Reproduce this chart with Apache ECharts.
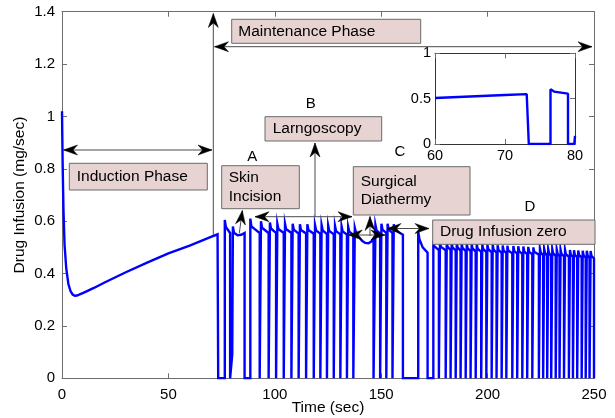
<!DOCTYPE html>
<html><head><meta charset="utf-8">
<script src="https://cdn.jsdelivr.net/npm/echarts@6/dist/echarts.min.js"></script>
<style>html,body{margin:0;padding:0;background:#fff}#c{width:615px;height:418px}</style>
</head><body><div id="c"></div>
<script>
// ---- data ----
const xRange = [0, 250];
const yRange = [0, 1.4];
const insetXRange = [60, 80];
const insetYRange = [0, 1];

// induction phase (continuous curve) [t, mg/sec]
const induction = [[0,1.02],[0.3,0.82],[0.7,0.64],[1.2,0.51],[2,0.42],[3,0.36],[4,0.333],[5,0.32],[6,0.315],[7,0.316],
  [10,0.326],[15,0.345],[20,0.366],[30,0.405],[40,0.442],[50,0.477],[60,0.507],[70,0.54],[73.1,0.55],[73.4,0]];

// maintenance phase pulses: upper outline of each pulse [t, value]; each pulse rises from 0 and returns to 0
const pulsesA = [
  [[76.5,0.605],[77.0,0.578],[79.0,0.555]],
  [[79.9,0],[80.0,0.09],[80.3,0.58],[80.8,0.556],[82.5,0.546],[84.2,0.548],[85.8,0.555]],
  [[88.5,0.61],[89.0,0.58],[92.9,0.555]],
  [[93.5,0.60],[94.0,0.575],[97.1,0.555]],
  [[97.7,0.595],[98.2,0.572],[100.6,0.555]],
  [[101.2,0.59],[101.7,0.57],[104.2,0.555]],
  [[104.8,0.59],[105.3,0.57],[107.8,0.555]],
  [[108.4,0.59],[108.9,0.568],[111.2,0.553]],
  [[111.8,0.588],[112.3,0.566],[114.7,0.553]],
  [[115.3,0.588],[115.8,0.566],[118.3,0.552]],
  [[118.9,0.585],[119.4,0.565],[121.4,0.552]],
  [[122.0,0.585],[122.5,0.565],[124.5,0.551]],
  [[125.1,0.583],[125.6,0.563],[127.7,0.55]],
  [[128.3,0.582],[128.8,0.562],[130.8,0.55]],
  [[131.4,0.58],[131.9,0.561],[133.9,0.549]],
  [[134.5,0.578],[135.0,0.56],[136.9,0.548]],
  [[137.6,0.575],[138.2,0.555],[139.5,0.54],[141,0.525],[142.5,0.517],[144,0.516],[145.3,0.522],[146.4,0.535]]
];
const pulsesB = [
  [[147.3,0.585],[147.8,0.565],[149.5,0.553]],
  [[150.1,0.59],[150.6,0.568],[152.4,0.555]],
  [[153.0,0.59],[153.5,0.568],[155.3,0.555]],
  [[155.9,0.588],[156.4,0.566],[160.2,0.548]]
];
const pulsesC = [
  [[167.4,0.56],[168.0,0.53],[169.5,0.5],[171.8,0.48]]
];
const pulsesD = [
  [[174.5,0.525],[174.9,0.505],[177.1,0.49]],
  [[177.6,0.522],[178.0,0.503],[180.3,0.489]],
  [[180.8,0.52],[181.2,0.502],[182.6,0.49]],
  [[183.1,0.518],[183.5,0.5],[185.0,0.488]],
  [[185.5,0.518],[185.9,0.5],[187.3,0.487]],
  [[187.8,0.516],[188.2,0.498],[189.7,0.486]],
  [[190.2,0.515],[190.6,0.497],[192.0,0.485]],
  [[192.5,0.514],[192.9,0.496],[194.4,0.484]],
  [[194.9,0.513],[195.3,0.495],[197.0,0.483]],
  [[197.5,0.512],[197.9,0.494],[199.4,0.482]],
  [[199.9,0.51],[200.3,0.493],[201.9,0.481]],
  [[202.4,0.51],[202.8,0.492],[204.2,0.48]],
  [[204.7,0.508],[205.1,0.49],[206.6,0.479]],
  [[207.1,0.507],[207.5,0.489],[208.8,0.478]],
  [[209.3,0.506],[209.7,0.488],[211.6,0.477]],
  [[212.1,0.505],[212.5,0.487],[213.9,0.476]],
  [[214.4,0.504],[214.8,0.486],[216.3,0.475]],
  [[216.8,0.503],[217.2,0.485],[218.6,0.474]],
  [[219.1,0.502],[219.5,0.484],[221.0,0.473]],
  [[221.5,0.5],[221.9,0.483],[224.1,0.472]],
  [[224.6,0.495],[225.0,0.48],[226.1,0.47]],
  [[226.6,0.494],[227.0,0.479],[228.0,0.469]],
  [[228.5,0.493],[228.9,0.478],[229.9,0.468]],
  [[230.4,0.493],[230.8,0.477],[232.0,0.467]],
  [[232.5,0.492],[232.9,0.476],[233.8,0.466]],
  [[234.3,0.491],[234.7,0.475],[235.9,0.465]],
  [[236.4,0.49],[236.8,0.474],[238.2,0.464]],
  [[238.7,0.49],[239.1,0.473],[240.1,0.463]],
  [[240.6,0.489],[241.0,0.472],[242.1,0.462]],
  [[242.6,0.488],[243.0,0.471],[244.2,0.461]],
  [[244.7,0.487],[245.1,0.47],[246.1,0.46]],
  [[246.6,0.487],[247.0,0.469],[247.9,0.459]],
  [[248.4,0.486],[248.8,0.468],[250.0,0.458]]
];

// ---- build line data from the pulse outlines ----
function buildSeries() {
  const out = induction.slice();
  [pulsesA, pulsesB, pulsesC, pulsesD].forEach(group => {
    group.forEach(p => {
      if (p[0][1] !== 0) out.push([p[0][0], 0]);
      p.forEach(pt => out.push(pt));
      out.push([p[p.length - 1][0], 0]);
    });
  });
  return out;
}
const lineData = buildSeries();
const insetData = lineData.filter(d => d[0] >= insetXRange[0] - 1 && d[0] <= insetXRange[1]);

const chart = echarts.init(document.getElementById('c'), null, {renderer: 'canvas'});
const FONT = 'Liberation Sans, Arial, Helvetica, sans-serif';
const frame = '#6e6e6e';

function axisCommon(extra) {
  return Object.assign({
    type: 'value',
    axisLine: {show: true, onZero: false, lineStyle: {color: frame, width: 1}},
    axisTick: {show: true, inside: true, length: 5, lineStyle: {color: frame}},
    splitLine: {show: false},
    axisLabel: {color: '#000', fontSize: 15, fontFamily: FONT}
  }, extra);
}

const option = {
  animation: false,
  backgroundColor: '#fff',
  grid: [
    {left: 62, right: 21, top: 11.7, bottom: 39.7, show: false, containLabel: false, outerBoundsMode: 'none'},
    {left: 435, top: 53.3, width: 140, height: 90.7, show: true, backgroundColor: '#fff', borderWidth: 0, z: 5,
      containLabel: false, outerBoundsMode: 'none'}
  ],
  xAxis: [
    axisCommon({gridIndex: 0, position: 'bottom', min: xRange[0], max: xRange[1], interval: 50,
      axisLabel: {color: '#000', fontSize: 15, fontFamily: FONT, margin: 9},
      name: 'Time (sec)', nameLocation: 'middle', nameGap: 21, nameMoveOverlap: false,
      nameTextStyle: {color: '#000', fontSize: 15.5, fontFamily: FONT, verticalAlign: 'top'}}),
    axisCommon({gridIndex: 0, position: 'top', min: xRange[0], max: xRange[1], interval: 50, axisLabel: {show: false}}),
    axisCommon({gridIndex: 1, position: 'bottom', min: insetXRange[0], max: insetXRange[1], interval: 10, z: 6,
      axisLine: {show: true, onZero: false, lineStyle: {color: '#333', width: 1}},
      axisLabel: {color: '#000', fontSize: 14.5, fontFamily: FONT, margin: 4}}),
    axisCommon({gridIndex: 1, position: 'top', min: insetXRange[0], max: insetXRange[1], interval: 10, z: 6,
      axisLine: {show: true, onZero: false, lineStyle: {color: '#333', width: 1}}, axisLabel: {show: false}})
  ],
  yAxis: [
    axisCommon({gridIndex: 0, position: 'left', min: yRange[0], max: yRange[1], interval: 0.2,
      axisLabel: {color: '#000', fontSize: 15, fontFamily: FONT, margin: 7},
      name: 'Drug Infusion (mg/sec)', nameLocation: 'middle', nameGap: 34, nameRotate: 90, nameMoveOverlap: false,
      nameTextStyle: {color: '#000', fontSize: 15.5, fontFamily: FONT}}),
    axisCommon({gridIndex: 0, position: 'right', min: yRange[0], max: yRange[1], interval: 0.2, axisLabel: {show: false}}),
    axisCommon({gridIndex: 1, position: 'left', min: insetYRange[0], max: insetYRange[1], interval: 0.5, z: 6,
      axisLine: {show: true, onZero: false, lineStyle: {color: '#333', width: 1}},
      axisLabel: {color: '#000', fontSize: 14.5, fontFamily: FONT, margin: 4}}),
    axisCommon({gridIndex: 1, position: 'right', min: insetYRange[0], max: insetYRange[1], interval: 0.5, z: 6,
      axisLine: {show: true, onZero: false, lineStyle: {color: '#333', width: 1}}, axisLabel: {show: false}})
  ],
  series: [
    {type: 'line', xAxisIndex: 0, yAxisIndex: 0, data: lineData, showSymbol: false, symbol: 'none',
      clip: true, lineStyle: {color: '#0000ff', width: 2.4, join: 'miter'}, z: 3},
    {type: 'line', xAxisIndex: 2, yAxisIndex: 2, data: insetData, showSymbol: false, symbol: 'none',
      clip: true, lineStyle: {color: '#0000ff', width: 2.4}, z: 7}
  ]
};
chart.setOption(option);

// ---- annotations (boxes, labels, arrows) ----
const boxFill = '#e7d3d1', boxStroke = '#6a6a6a', annLine = '#4a4a4a';
const g = [];
function box(x, y, w, h, lines, tx) {
  g.push({type: 'rect', shape: {x: x, y: y, width: w, height: h}, z: 10,
    style: {fill: boxFill, stroke: boxStroke, lineWidth: 1}});
  const lh = 18.4;
  const cy = y + h / 2 - (lines.length - 1) * lh / 2;
  lines.forEach((s, i) => g.push({type: 'text', x: tx, y: cy + i * lh, z: 11,
    style: {text: s, fill: '#000', font: '15.5px ' + FONT, textAlign: 'left', textVerticalAlign: 'middle'}}));
}
function label(x, y, s) {
  g.push({type: 'text', x: x, y: y, z: 11,
    style: {text: s, fill: '#000', font: '15px ' + FONT, textAlign: 'center', textVerticalAlign: 'middle'}});
}
function seg(x1, y1, x2, y2) {
  g.push({type: 'line', shape: {x1: x1, y1: y1, x2: x2, y2: y2}, z: 12, style: {stroke: annLine, lineWidth: 1}});
}
function head(tx, ty, fx, fy) {
  const dx = tx - fx, dy = ty - fy, L = Math.hypot(dx, dy);
  const ux = dx / L, uy = dy / L, nx = -uy, ny = ux;
  const len = 14, hw = 5, notch = 9.5;
  const bx = tx - ux * len, by = ty - uy * len;
  g.push({type: 'polygon', z: 13, shape: {points: [
    [tx, ty], [bx + nx * hw, by + ny * hw], [tx - ux * notch, ty - uy * notch], [bx - nx * hw, by - ny * hw]]},
    style: {fill: '#000', stroke: '#000', lineWidth: 0.5}});
}
function arrow(x1, y1, x2, y2) { seg(x1, y1, x2, y2); head(x2, y2, x1, y1); }
function darrow(x1, y1, x2, y2) { seg(x1, y1, x2, y2); head(x2, y2, x1, y1); head(x1, y1, x2, y2); }

arrow(213.3, 235, 213.3, 13.5);
darrow(63.5, 150, 212, 150);
darrow(214.5, 46.7, 592, 46.7);
box(69.3, 163.3, 138, 26.7, ['Induction Phase'], 76.7);
box(231.7, 19.3, 189, 24, ['Maintenance Phase'], 238.3);
label(310.7, 104, 'B');
box(265, 116.7, 116.7, 24.3, ['Larngoscopy'], 272.7);
arrow(315, 216.7, 315, 143);
darrow(255, 216.7, 352, 216.7);
label(252.3, 156.7, 'A');
box(221.7, 165.7, 77.6, 43, ['Skin', 'Incision'], 228.7);
arrow(239.3, 233.3, 242.3, 210.5);
label(400, 152.3, 'C');
box(353.3, 166.7, 116.7, 48.3, ['Surgical', 'Diathermy'], 360.7);
arrow(370, 236, 370, 216.5);
darrow(348.3, 235, 385, 235);
darrow(387, 228.5, 429, 228.5);
label(530, 207.3, 'D');
box(432.7, 220, 162.3, 24.3, ['Drug Infusion zero'], 440);

chart.setOption({graphic: g});
</script>
</body></html>
